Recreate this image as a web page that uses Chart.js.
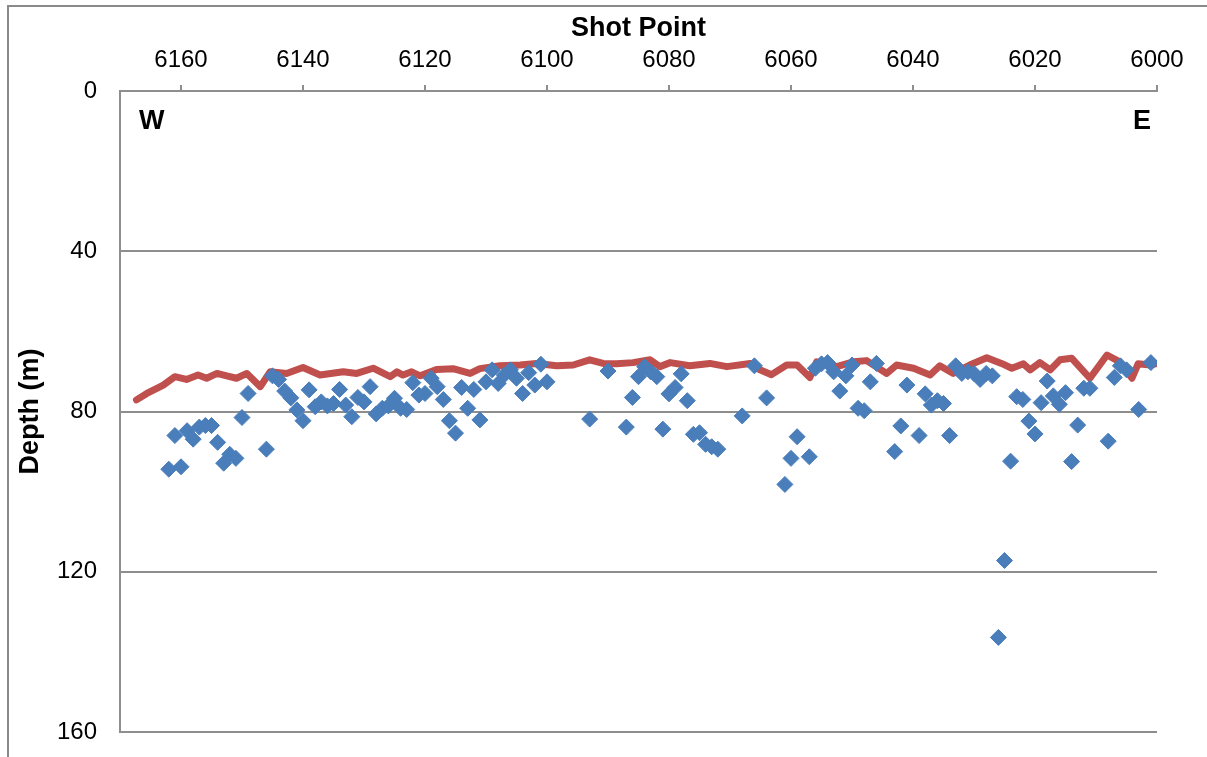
<!DOCTYPE html>
<html>
<head>
<meta charset="utf-8">
<script src="https://cdn.jsdelivr.net/npm/chart.js@4/dist/chart.umd.min.js"></script>
<style>
  html, body { margin: 0; padding: 0; background: #fff; }
  #wrap { position: relative; width: 1207px; height: 757px; }
</style>
</head>
<body>
<div id="wrap"><canvas id="depthChart" width="1207" height="757"></canvas></div>
<script>
// shot point ticks shown on the top axis
const shotTicks = [6160, 6140, 6120, 6100, 6080, 6060, 6040, 6020, 6000];
const depthTicks = [0, 40, 80, 120, 160];

// red line (interpreted horizon)
const lineSP = [6167.3, 6165.6, 6162.9, 6161.0, 6159.1, 6157.2, 6155.8, 6154.1, 6152.5, 6150.9,
  6149.2, 6147.0, 6145.4, 6142.7, 6140.0, 6137.2, 6133.4, 6131.2, 6128.5, 6125.7,
  6124.6, 6123.6, 6122.2, 6120.8, 6118.1, 6115.4, 6112.6, 6111.0, 6107.7, 6104.4,
  6101.7, 6098.4, 6095.7, 6093.0, 6090.8, 6088.6, 6085.9, 6083.1, 6081.5, 6079.8,
  6076.6, 6073.3, 6070.5, 6066.7, 6065.1, 6063.2, 6060.7, 6059.0, 6056.9, 6055.8,
  6052.5, 6049.8, 6047.6, 6044.3, 6042.7, 6039.9, 6037.2, 6035.6, 6033.4, 6030.7,
  6027.9, 6025.5, 6023.8, 6021.9, 6020.8, 6019.2, 6017.5, 6015.9, 6014.0, 6011.0,
  6008.2, 6006.1, 6004.1, 6003.1, 6001.1, 6000.0];
const lineDepth = [77.1, 75.5, 73.4, 71.3, 72.0, 70.9, 71.7, 70.5, 71.1, 71.7,
  70.5, 73.8, 70.1, 70.5, 69.0, 70.9, 70.1, 70.5, 69.2, 71.3,
  70.1, 70.9, 70.1, 71.1, 69.5, 69.3, 70.5, 69.3, 68.6, 68.4,
  68.0, 68.6, 68.4, 67.1, 68.0, 68.1, 67.8, 67.1, 68.8, 67.8,
  68.6, 68.0, 68.8, 68.0, 69.6, 70.8, 68.4, 68.4, 71.5, 67.6,
  68.8, 67.6, 67.3, 70.5, 68.4, 69.2, 70.9, 68.6, 70.5, 68.4,
  66.6, 68.0, 69.2, 68.1, 69.6, 67.8, 69.6, 67.1, 66.7, 71.7,
  65.9, 67.6, 71.7, 68.1, 68.4, 68.0];

// blue diamonds (picked depths)
const pickSP = [6162, 6160, 6161, 6159, 6158, 6157, 6156, 6155, 6154, 6153,
  6152, 6151, 6150, 6149, 6146, 6145, 6144, 6143, 6142, 6141,
  6140, 6139, 6138, 6137, 6136, 6135, 6134, 6133, 6132, 6131,
  6130, 6129, 6128, 6127, 6126, 6125, 6124, 6123, 6122, 6121,
  6120, 6119, 6118, 6117, 6116, 6115, 6114, 6113, 6112, 6111,
  6110, 6109, 6108, 6107, 6106, 6105, 6104, 6103, 6102, 6101,
  6100, 6093, 6090, 6087, 6086, 6085, 6084, 6083, 6082, 6081,
  6080, 6079, 6078, 6077, 6076, 6075, 6074, 6073, 6072, 6068,
  6066, 6064, 6061, 6060, 6059, 6057, 6056, 6055, 6054, 6053,
  6052, 6051, 6050, 6049, 6048, 6047, 6046, 6043, 6042, 6041,
  6039, 6038, 6037, 6036, 6035, 6034, 6033, 6032, 6031, 6030,
  6029, 6028, 6027, 6026, 6025, 6024, 6023, 6022, 6021, 6020,
  6019, 6018, 6017, 6016, 6015, 6014, 6013, 6012, 6011, 6008,
  6007, 6006, 6005, 6003, 6001];
const pickDepth = [94.4, 93.8, 86.0, 84.8, 86.9, 83.9, 83.5, 83.5, 87.7, 92.9,
  90.7, 91.7, 81.5, 75.5, 89.4, 71.1, 72.0, 74.9, 76.6, 79.6,
  82.3, 74.6, 78.8, 77.6, 78.6, 78.0, 74.5, 78.4, 81.3, 76.5,
  77.6, 73.8, 80.6, 79.2, 78.6, 76.7, 79.2, 79.5, 72.8, 75.9,
  75.5, 71.7, 73.8, 77.0, 82.3, 85.4, 74.0, 79.2, 74.5, 82.1,
  72.6, 69.6, 73.0, 70.9, 69.6, 71.7, 75.5, 70.3, 73.4, 68.2,
  72.6, 81.9, 69.9, 83.9, 76.5, 71.3, 68.8, 70.1, 71.3, 84.4,
  75.6, 74.0, 70.6, 77.3, 85.7, 85.3, 88.2, 88.8, 89.4, 81.1,
  68.6, 76.6, 98.2, 91.7, 86.3, 91.3, 69.2, 68.1, 67.8, 70.1,
  74.9, 71.1, 68.4, 79.2, 79.8, 72.6, 68.0, 90.0, 83.6, 73.4,
  86.0, 75.6, 78.4, 77.3, 78.0, 86.0, 68.6, 70.5, 70.1, 70.5,
  72.0, 70.5, 71.1, 136.4, 117.2, 92.4, 76.3, 77.0, 82.4, 85.6,
  77.8, 72.4, 76.1, 78.2, 75.3, 92.5, 83.4, 74.2, 74.2, 87.4,
  71.5, 68.6, 69.6, 79.5, 67.8];

const FONT = "'Liberation Sans', Arial, sans-serif";
const GRID = '#8e8e8e';

// outer frame + W / E markers
const framePlugin = {
    id: 'frame',
    beforeDraw(chart) {
        const ctx = chart.ctx;
        ctx.save();
        ctx.fillStyle = '#fff';
        ctx.fillRect(0, 0, chart.width, chart.height);
        ctx.strokeStyle = '#8a8a8a';
        ctx.lineWidth = 2;
        ctx.beginPath();
        ctx.moveTo(8, chart.height + 5);
        ctx.lineTo(8, 6);
        ctx.lineTo(chart.width + 5, 6);
        ctx.stroke();
        ctx.restore();
    },
    afterDraw(chart) {
        const { ctx, chartArea } = chart;
        ctx.save();
        ctx.fillStyle = '#000';
        ctx.font = 'bold 27px ' + FONT;
        ctx.textBaseline = 'middle';
        ctx.textAlign = 'left';
        ctx.fillText('W', chartArea.left + 19, chartArea.top + 31);
        ctx.textAlign = 'right';
        ctx.fillText('E', chartArea.right - 6, chartArea.top + 31);
        ctx.restore();
    }
};

new Chart(document.getElementById('depthChart'), {
    type: 'scatter',
    data: {
        datasets: [
            {
                label: 'Picks',
                data: pickSP.map((sp, i) => ({ x: sp, y: pickDepth[i] })),
                pointStyle: 'rectRot',
                pointRadius: 8,
                backgroundColor: '#4a7ebb',
                borderColor: '#4a7ebb',
                borderWidth: 1,
                order: 1
            },
            {
                label: 'Horizon',
                data: lineSP.map((sp, i) => ({ x: sp, y: lineDepth[i] })),
                showLine: true,
                borderColor: '#c0504d',
                borderWidth: 7,
                borderJoinStyle: 'round',
                borderCapStyle: 'round',
                pointRadius: 0,
                tension: 0,
                order: 2
            }
        ]
    },
    options: {
        responsive: false,
        animation: false,
        events: [],
        layout: { padding: { left: 0, top: 0, right: 50, bottom: 25 } },
        plugins: { legend: { display: false }, tooltip: { enabled: false } },
        scales: {
            x: {
                type: 'linear',
                position: 'top',
                reverse: true,
                min: 6000,
                max: 6170,
                afterBuildTicks: s => { s.ticks = shotTicks.map(v => ({ value: v })); },
                afterFit: s => { s.height = 91; },
                grid: { drawOnChartArea: false, drawTicks: true, tickLength: 6, color: GRID, lineWidth: 2 },
                border: { color: GRID, width: 2 },
                ticks: { color: '#000', font: { family: FONT, size: 24 }, padding: 10, maxRotation: 0, callback: v => String(v) },
                title: { display: true, text: 'Shot Point', color: '#000', font: { family: FONT, size: 27, weight: 'bold' }, padding: { top: 12, bottom: 0 } }
            },
            y: {
                type: 'linear',
                reverse: true,
                min: 0,
                max: 160,
                afterBuildTicks: s => { s.ticks = depthTicks.map(v => ({ value: v })); },
                afterFit: s => { s.width = 120; },
                // invisible tick marks push the labels away from the axis line
                grid: { drawTicks: true, tickLength: 23, tickColor: 'rgba(0,0,0,0)', color: GRID, lineWidth: 2 },
                border: { color: GRID, width: 2 },
                ticks: { color: '#000', font: { family: FONT, size: 24 }, padding: 0, callback: v => String(v) },
                title: { display: true, text: 'Depth (m)', color: '#000', font: { family: FONT, size: 27, weight: 'bold' }, padding: { top: 14, bottom: 0 } }
            }
        }
    },
    plugins: [framePlugin]
});
</script>
</body>
</html>
